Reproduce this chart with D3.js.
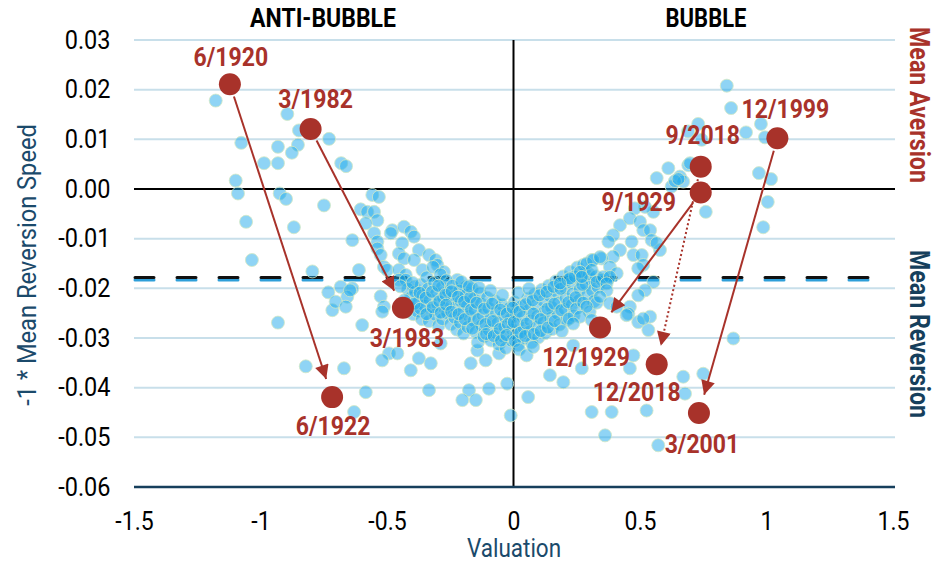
<!DOCTYPE html>
<html>
<head>
<meta charset="utf-8">
<script src="https://cdn.jsdelivr.net/npm/d3@7"></script>
<style>
  body { margin: 0; background: #fff; }
  text { font-family: Roboto, "Open Sans", sans-serif; }
</style>
</head>
<body>
<svg id="chart" width="945" height="563"></svg>
<script>
// axis ticks
const xTicks = [-1.5, -1, -0.5, 0, 0.5, 1, 1.5];
const yTicks = [0.03, 0.02, 0.01, 0, -0.01, -0.02, -0.03, -0.04, -0.05, -0.06];
const meanReversionLevel = -0.018;

// [valuation, -1 * mean reversion speed]
const scatterPts = [
  [-1.177,0.0178],[-0.894,0.0151],[-0.848,0.0118],[-0.729,0.0101],[-1.076,0.0093],[-0.931,0.0085],
  [-0.852,0.0089],[-0.876,0.0073],[-0.986,0.0052],[-0.931,0.0052],[-1.098,0.0017],[-1.089,-0.0009],
  [-0.924,-0.0009],[-0.899,-0.0020],[-0.749,-0.0033],[-1.057,-0.0066],[-0.868,-0.0077],[-1.034,-0.0143],
  [-0.795,-0.0166],[-0.732,-0.0208],[-0.716,-0.0244],[-0.931,-0.0269],[-0.821,-0.0357],
  [-0.681,0.0052],[-0.662,0.0046],
  [-0.558,-0.0012],[-0.532,-0.0016],[-0.604,-0.0041],[-0.578,-0.0046],[-0.551,-0.0046],[-0.538,-0.0063],
  [-0.584,-0.0069],[-0.637,-0.0103],[-0.551,-0.0089],[-0.538,-0.0106],[-0.479,-0.0083],[-0.485,-0.0089],
  [-0.433,-0.0076],[-0.406,-0.0086],[-0.393,-0.0096],[-0.440,-0.0109],[-0.538,-0.0120],[-0.525,-0.0133],
  [-0.453,-0.0130],[-0.433,-0.0140],[-0.374,-0.0123],[-0.334,-0.0133],[-0.308,-0.0143],[-0.301,-0.0153],
  [-0.275,-0.0167],[-0.393,-0.0143],[-0.360,-0.0163],[-0.512,-0.0157],[-0.499,-0.0163],[-0.453,-0.0163],
  [-0.426,-0.0173],[-0.611,-0.0163],[-0.683,-0.0197],[-0.637,-0.0200],[-0.657,-0.0217],[-0.703,-0.0227],
  [-0.663,-0.0237],[-0.525,-0.0216],[-0.512,-0.0237],[-0.519,-0.0247],[-0.598,-0.0274],[-0.453,-0.0183],
  [-0.426,-0.0183],[-0.393,-0.0197],[-0.222,-0.0183],[-0.189,-0.0197],[-0.492,-0.0331],[-0.459,-0.0331],
  [-0.519,-0.0345],[-0.374,-0.0341],[-0.327,-0.0351],[-0.406,-0.0365],[-0.670,-0.0361],[-0.288,-0.0311],
  [-0.143,-0.0325],[-0.110,-0.0345],[-0.169,-0.0351],[-0.057,-0.0331],[-0.334,-0.0405],[-0.584,-0.0409],
  [-0.176,-0.0405],[-0.097,-0.0402],[-0.025,-0.0392],[-0.202,-0.0425],[-0.149,-0.0425],[-0.011,-0.0456],
  [-0.630,-0.0449],[-0.646,-0.0204],
  // dense band around zero valuation
  [-0.418,-0.0201],[-0.405,-0.0218],[-0.412,-0.0236],[-0.396,-0.0252],[-0.389,-0.0207],[-0.377,-0.0228],
  [-0.381,-0.0246],[-0.366,-0.0193],[-0.359,-0.0214],[-0.352,-0.0235],[-0.362,-0.0262],[-0.343,-0.0178],
  [-0.338,-0.0201],[-0.331,-0.0223],[-0.327,-0.0244],[-0.334,-0.0266],[-0.318,-0.0157],[-0.313,-0.0189],
  [-0.306,-0.0211],[-0.301,-0.0232],[-0.309,-0.0253],[-0.296,-0.0275],[-0.289,-0.0172],[-0.283,-0.0198],
  [-0.278,-0.0219],[-0.272,-0.0241],[-0.281,-0.0262],[-0.265,-0.0184],[-0.259,-0.0206],[-0.254,-0.0228],
  [-0.262,-0.0250],[-0.248,-0.0272],[-0.241,-0.0195],[-0.236,-0.0216],[-0.229,-0.0238],[-0.233,-0.0259],
  [-0.224,-0.0283],[-0.214,-0.0205],[-0.209,-0.0226],[-0.203,-0.0248],[-0.211,-0.0269],[-0.198,-0.0291],
  [-0.188,-0.0213],[-0.183,-0.0235],[-0.176,-0.0256],[-0.181,-0.0278],[-0.164,-0.0200],[-0.159,-0.0222],
  [-0.153,-0.0244],[-0.157,-0.0266],[-0.149,-0.0288],[-0.141,-0.0309],[-0.133,-0.0210],[-0.128,-0.0231],
  [-0.122,-0.0253],[-0.126,-0.0275],[-0.118,-0.0297],[-0.104,-0.0219],[-0.099,-0.0240],[-0.093,-0.0262],
  [-0.097,-0.0284],[-0.089,-0.0305],[-0.074,-0.0226],[-0.069,-0.0248],[-0.063,-0.0270],[-0.067,-0.0291],
  [-0.058,-0.0313],[-0.046,-0.0233],[-0.041,-0.0255],[-0.036,-0.0277],[-0.039,-0.0298],[-0.031,-0.0320],
  [-0.017,-0.0240],[-0.012,-0.0262],[-0.006,-0.0283],[-0.009,-0.0305],[0.004,-0.0228],[0.009,-0.0250],
  [0.014,-0.0271],[0.011,-0.0293],[0.018,-0.0314],[0.031,-0.0236],[0.036,-0.0258],[0.041,-0.0280],
  [0.038,-0.0301],[0.057,-0.0221],[0.062,-0.0243],[0.067,-0.0265],[0.064,-0.0287],[0.071,-0.0309],
  [0.084,-0.0212],[0.089,-0.0234],[0.094,-0.0256],[0.091,-0.0278],[0.098,-0.0299],[0.112,-0.0203],
  [0.117,-0.0225],[0.122,-0.0247],[0.119,-0.0269],[0.126,-0.0290],[0.139,-0.0195],[0.144,-0.0216],
  [0.149,-0.0238],[0.146,-0.0260],[0.153,-0.0282],[0.167,-0.0186],[0.172,-0.0208],[0.177,-0.0229],
  [0.174,-0.0251],[0.181,-0.0273],[0.196,-0.0176],[0.201,-0.0198],[0.206,-0.0220],[0.203,-0.0242],
  [0.209,-0.0264],[0.224,-0.0167],[0.229,-0.0189],[0.234,-0.0211],[0.231,-0.0233],[0.238,-0.0255],
  [0.252,-0.0158],[0.257,-0.0180],[0.262,-0.0202],[0.259,-0.0224],[0.281,-0.0170],[0.286,-0.0192],
  [0.291,-0.0214],[0.304,-0.0182],[0.311,-0.0205],[0.318,-0.0226],[0.333,-0.0197],
  [-0.447,-0.0196],[-0.431,-0.0224],[-0.423,-0.0247],[-0.399,-0.0189],[-0.392,-0.0231],[-0.371,-0.0209],
  [-0.368,-0.0241],[-0.347,-0.0219],[-0.344,-0.0252],[-0.322,-0.0207],[-0.319,-0.0238],[-0.297,-0.0195],
  [-0.293,-0.0226],[-0.287,-0.0249],[-0.269,-0.0213],[-0.266,-0.0233],[-0.244,-0.0206],[-0.246,-0.0247],
  [-0.219,-0.0217],[-0.217,-0.0252],[-0.195,-0.0227],[-0.192,-0.0262],[-0.171,-0.0218],[-0.168,-0.0243],
  [-0.163,-0.0281],[-0.146,-0.0229],[-0.139,-0.0262],[-0.116,-0.0241],[-0.111,-0.0272],[-0.108,-0.0292],
  [-0.084,-0.0231],[-0.081,-0.0266],[-0.078,-0.0296],[-0.052,-0.0243],[-0.054,-0.0282],[-0.049,-0.0305],
  [-0.026,-0.0251],[-0.022,-0.0272],[-0.028,-0.0294],[-0.003,-0.0239],[0.001,-0.0268],[0.006,-0.0306],
  [0.024,-0.0247],[0.027,-0.0289],[0.022,-0.0323],[0.048,-0.0232],[0.052,-0.0271],[0.046,-0.0296],
  [0.076,-0.0224],[0.079,-0.0251],[0.081,-0.0292],[0.103,-0.0214],[0.107,-0.0262],[0.108,-0.0286],
  [0.131,-0.0207],[0.134,-0.0241],[0.136,-0.0279],[0.158,-0.0197],[0.161,-0.0231],[0.163,-0.0266],
  [0.186,-0.0201],[0.189,-0.0244],[0.191,-0.0286],[0.214,-0.0183],[0.217,-0.0228],[0.219,-0.0261],
  [0.243,-0.0176],[0.246,-0.0218],[0.248,-0.0241],[0.272,-0.0193],[0.276,-0.0229],[0.298,-0.0171],
  [0.301,-0.0247],[0.326,-0.0176],[0.329,-0.0229],[-0.206,-0.0187],[-0.176,-0.0196],[-0.137,-0.0199],
  [-0.091,-0.0205],[-0.044,-0.0214],[0.019,-0.0209],[0.061,-0.0201],
  // bubble side
  [0.612,0.0042],[0.566,0.0022],[0.658,0.0025],[0.691,0.0048],[0.625,0.0005],[0.671,0.0015],
  [0.760,-0.0046],[0.553,-0.0046],[0.520,-0.0036],[0.480,-0.0039],[0.421,-0.0073],[0.394,-0.0093],
  [0.375,-0.0106],[0.460,-0.0059],[0.500,-0.0066],[0.513,-0.0083],[0.540,-0.0083],[0.546,-0.0103],
  [0.579,-0.0123],[0.566,-0.0109],[0.467,-0.0106],[0.421,-0.0123],[0.394,-0.0136],[0.349,-0.0140],
  [0.309,-0.0143],[0.276,-0.0153],[0.474,-0.0133],[0.507,-0.0133],[0.513,-0.0153],[0.493,-0.0160],
  [0.381,-0.0157],[0.375,-0.0180],[0.349,-0.0183],[0.408,-0.0170],[0.553,-0.0187],[0.520,-0.0204],
  [0.493,-0.0214],[0.460,-0.0237],[0.454,-0.0251],[0.493,-0.0268],[0.540,-0.0257],[0.533,-0.0284],
  [0.513,-0.0261],[0.447,-0.0254],[0.638,0.0016],[0.652,0.0020],
  [0.329,-0.0187],[0.355,-0.0177],[0.381,-0.0177],[0.368,-0.0190],[0.289,-0.0150],[0.315,-0.0143],
  [0.342,-0.0137],[0.309,-0.0163],[0.263,-0.0167],[0.223,-0.0180],[0.270,-0.0177],[0.184,-0.0190],
  [0.368,-0.0204],[0.342,-0.0217],[0.381,-0.0230],[0.408,-0.0237],[0.289,-0.0237],[0.263,-0.0257],
  [0.309,-0.0264],[0.236,-0.0271],
  [0.052,-0.0335],[0.078,-0.0318],[0.144,-0.0375],[0.197,-0.0389],[0.058,-0.0419],[0.270,-0.0361],
  [0.236,-0.0315],[0.460,-0.0361],[0.474,-0.0335],[0.309,-0.0449],[0.388,-0.0449],[0.362,-0.0496],
  [0.526,-0.0446],[0.572,-0.0516],[0.671,-0.0378],[0.678,-0.0412],[0.750,-0.0372],[0.869,-0.0301],
  [0.843,0.0208],[0.860,0.0163],[0.919,0.0114],[0.978,0.0131],[0.994,0.0104],[0.730,0.0131],
  [0.690,0.0116],[0.744,0.0099],[0.970,0.0032],[1.018,0.0020],[1.005,-0.0026],[0.987,-0.0077],
  [0.698,0.0052]
];

// highlighted episodes
const eventNames = ["6/1920", "6/1922", "3/1982", "3/1983", "9/1929", "12/1929", "9/2018", "12/2018", "12/1999", "3/2001"];
const eventX = [-1.121, -0.717, -0.802, -0.437, 0.740, 0.342, 0.740, 0.566, 1.043, 0.733];
const eventY = [0.0211, -0.0419, 0.0121, -0.0239, -0.0007, -0.0279, 0.0045, -0.0353, 0.0102, -0.0451];

// transitions: from, to, dotted?
const moves = [
  ["6/1920", "6/1922", false],
  ["3/1982", "3/1983", false],
  ["9/1929", "12/1929", false],
  ["9/2018", "12/2018", true],
  ["12/1999", "3/2001", false]
];

// label offsets in px from the dot
const labelOffset = {
  "6/1920": [1, -27], "6/1922": [1, 29], "3/1982": [5, -30], "3/1983": [4, 30],
  "9/1929": [-62, 10], "12/1929": [-14, 29], "9/2018": [2, -32], "12/2018": [-20, 28],
  "12/1999": [8, -29], "3/2001": [3, 31]
};

const red = "#a8322a", navy = "#1b4a6b", grid = "#c8dfea";

const svg = d3.select("#chart");
const x = d3.scaleLinear().domain([-1.5, 1.5]).range([134, 893]);
const y = d3.scaleLinear().domain([-0.06, 0.03]).range([487, 40]);

// gridlines
svg.append("g")
  .selectAll("line")
  .data(yTicks.filter(d => d !== 0 && d !== -0.06))
  .enter()
  .append("line")
    .attr("x1", 134).attr("x2", 895)
    .attr("y1", d => y(d)).attr("y2", d => y(d))
    .attr("stroke", grid).attr("stroke-width", 2);

// mean reversion level (dashed, two tone)
svg.append("line")
  .attr("x1", 135).attr("x2", 880)
  .attr("y1", y(meanReversionLevel) + 1.5).attr("y2", y(meanReversionLevel) + 1.5)
  .attr("stroke", "#2e9fd9").attr("stroke-width", 3)
  .attr("stroke-dasharray", "19 23").attr("stroke-linecap", "round");
svg.append("line")
  .attr("x1", 135).attr("x2", 880)
  .attr("y1", y(meanReversionLevel) - 1).attr("y2", y(meanReversionLevel) - 1)
  .attr("stroke", "#111").attr("stroke-width", 3)
  .attr("stroke-dasharray", "19 23").attr("stroke-linecap", "round");

// zero lines
svg.append("line")
  .attr("x1", 134).attr("x2", 895).attr("y1", y(0)).attr("y2", y(0))
  .attr("stroke", "#000").attr("stroke-width", 2);
svg.append("line")
  .attr("x1", x(0)).attr("x2", x(0)).attr("y1", y(0.03)).attr("y2", y(-0.06))
  .attr("stroke", "#000").attr("stroke-width", 2);
svg.append("line")
  .attr("x1", 134).attr("x2", 895).attr("y1", y(-0.06)).attr("y2", y(-0.06))
  .attr("stroke", "#163f5c").attr("stroke-width", 2.5);

// axes (narrowed glyphs to mimic the condensed face)
let yAxis = svg.append("g")
  .attr("transform", "translate(134,0)")
  .call(d3.axisLeft(y).tickValues(yTicks).tickSize(0).tickPadding(25).tickFormat(d => d.toFixed(2)));
yAxis.select(".domain").remove();
yAxis.selectAll("text").attr("font-size", 25).attr("fill", "#000")
  .attr("transform", "scale(0.94,1)").style("font-family", "Roboto");

let xAxis = svg.append("g")
  .attr("transform", "translate(0,487)")
  .call(d3.axisBottom(x).tickValues(xTicks).tickSize(0).tickPadding(25).tickFormat(d => String(d)));
xAxis.select(".domain").remove();
xAxis.selectAll("text").attr("font-size", 25).attr("fill", "#000")
  .attr("transform", "scale(0.92,1)").style("font-family", "Roboto");

// scatter
svg.append("g")
  .selectAll("circle")
  .data(scatterPts)
  .enter()
  .append("circle")
    .attr("cx", d => x(d[0]))
    .attr("cy", d => y(d[1]))
    .attr("r", 6.5)
    .attr("fill", "rgb(31,169,235)")
    .attr("fill-opacity", 0.5)
    .attr("stroke", "#d3e8c4")
    .attr("stroke-opacity", 0.8)
    .attr("stroke-width", 1);

// arrows
const defs = svg.append("defs");
defs.append("marker")
  .attr("id", "head")
  .attr("viewBox", "0 0 10 10")
  .attr("refX", 10).attr("refY", 5)
  .attr("markerUnits", "userSpaceOnUse")
  .attr("markerWidth", 17).attr("markerHeight", 14)
  .attr("orient", "auto")
  .append("path")
    .attr("d", "M0,0 L10,5 L0,10 z")
    .attr("fill", red);

function evPos(name) {
  let i = eventNames.indexOf(name);
  return [x(eventX[i]), y(eventY[i])];
}

svg.append("g")
  .selectAll("line")
  .data(moves)
  .enter()
  .append("line")
    .each(function (m) {
      let a = evPos(m[0]), b = evPos(m[1]);
      let dx = b[0] - a[0], dy = b[1] - a[1];
      let len = Math.sqrt(dx * dx + dy * dy);
      let ux = dx / len, uy = dy / len;
      d3.select(this)
        .attr("x1", a[0] + ux * 13).attr("y1", a[1] + uy * 13)
        .attr("x2", b[0] - ux * 19).attr("y2", b[1] - uy * 19);
    })
    .attr("stroke", red)
    .attr("stroke-width", 2)
    .attr("stroke-dasharray", m => m[2] ? "2 2.5" : null)
    .attr("marker-end", "url(#head)");

// highlighted dots
svg.append("g")
  .selectAll("circle")
  .data(eventNames)
  .enter()
  .append("circle")
    .attr("cx", (d, i) => x(eventX[i]))
    .attr("cy", (d, i) => y(eventY[i]))
    .attr("r", 11)
    .attr("fill", red);

svg.append("g")
  .selectAll("text")
  .data(eventNames)
  .enter()
  .append("text")
    .attr("transform", (d, i) => "translate(" + (x(eventX[i]) + labelOffset[d][0]) + "," + (y(eventY[i]) + labelOffset[d][1]) + ") scale(0.96,1.04)")
    .attr("dy", "0.36em")
    .attr("text-anchor", "middle")
    .attr("font-size", 24)
    .attr("font-weight", "bold")
    .attr("fill", red)
    .text(d => d);

// titles
svg.append("text")
  .attr("transform", "translate(323,27) scale(0.92,1)")
  .attr("text-anchor", "middle")
  .attr("font-size", 25).attr("font-weight", "bold")
  .text("ANTI-BUBBLE");
svg.append("text")
  .attr("transform", "translate(706,27) scale(0.88,1)")
  .attr("text-anchor", "middle")
  .attr("font-size", 25).attr("font-weight", "bold")
  .text("BUBBLE");

// axis titles
svg.append("text")
  .attr("transform", "translate(514,557) scale(0.9,1)")
  .attr("text-anchor", "middle")
  .attr("font-size", 25).attr("fill", navy)
  .text("Valuation");
svg.append("text")
  .attr("transform", "translate(36,265) rotate(-90) scale(0.91,1)")
  .attr("text-anchor", "middle")
  .attr("font-size", 26).attr("fill", navy)
  .text("-1 * Mean Reversion Speed");
svg.append("text")
  .attr("transform", "translate(910,105) rotate(90) scale(0.86,1)")
  .attr("text-anchor", "middle")
  .attr("font-size", 27).attr("font-weight", "bold").attr("fill", red)
  .text("Mean Aversion");
svg.append("text")
  .attr("transform", "translate(910,334) rotate(90) scale(0.86,1)")
  .attr("text-anchor", "middle")
  .attr("font-size", 27).attr("font-weight", "bold").attr("fill", "#163f5c")
  .text("Mean Reversion");
</script>
</body>
</html>
